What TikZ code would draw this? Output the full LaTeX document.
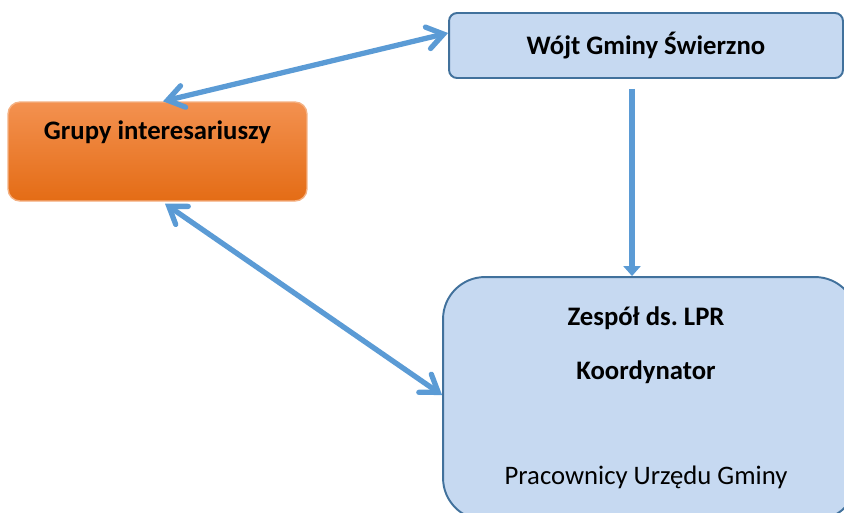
\documentclass[tikz,border=0pt]{standalone}
\usepackage{fontspec}
\setmainfont{Carlito}
\usetikzlibrary{arrows.meta,positioning}
\definecolor{arrowblue}{HTML}{5B9BD5}
\definecolor{boxblue}{HTML}{C6D9F1}
\definecolor{boxline}{HTML}{41719C}
\definecolor{orangetop}{HTML}{F39150}
\definecolor{orangebot}{HTML}{E46C15}
\definecolor{orangeline}{HTML}{F4B183}

\begin{document}
\begin{tikzpicture}[x=0.02cm, y=-0.02cm,
        BL/.style = {draw=boxline, line width=1.1pt, fill=boxblue,
                     rounded corners=#1},
        OR/.style = {draw=orangeline, line width=0.8pt,
                     top color=orangetop, bottom color=orangebot,
                     rounded corners=0.24cm},
        T/.style  = {font=\fontsize{15.2}{18}\selectfont\bfseries, inner sep=0pt},
        A/.style  = {draw=arrowblue, line width=3pt,
                     {Straight Barb[length=0.32cm,width=0.44cm,line cap=round]}-{Straight Barb[length=0.32cm,width=0.44cm,line cap=round]}},
        D/.style  = {draw=arrowblue, line width=3pt,
                     -{Triangle[length=0.2cm,width=0.34cm]}}
                                ]
        \useasboundingbox (0,0) rectangle (844,512);
        % boxes
        \node[BL=0.16cm, minimum width=7.88cm, minimum height=1.3cm] (wojt) at (646,45.5) {};
        \node[T] (wojttxt) at (wojt.center) {Wójt Gminy Świerzno};

        \node[OR, minimum width=5.98cm, minimum height=1.98cm] (grupy) at (157.5,151.5) {};
        \node[T] (grupytxt) at ([yshift=0.38cm]grupy.center) {Grupy interesariuszy};

        \node[BL=0.84cm, minimum width=8.28cm, minimum height=4.86cm] (zespol) at (650,398.5) {};
        \coordinate (ztop) at (646,277);
        \node[T, below=0.58cm of ztop] (lpr) {Zespół ds.\ LPR};
        \node[T, below=0.62cm of lpr] (koord) {Koordynator};
        \node[T, font=\fontsize{15.2}{18}\selectfont, below=1.62cm of koord] (prac) {Pracownicy Urzędu Gminy};

        % arrows
        \draw[A] ([xshift=0.11cm]grupy.north) -- ([yshift=0.25cm]wojt.west);
        \draw[A] ([xshift=0.15cm,yshift=-0.04cm]grupy.south) -- ([yshift=0.07cm]zespol.west);
        \draw[D] ([xshift=-0.28cm,yshift=-0.2cm]wojt.south) coordinate (s) -- (s |- zespol.north);
    \end{tikzpicture}
\end{document}
